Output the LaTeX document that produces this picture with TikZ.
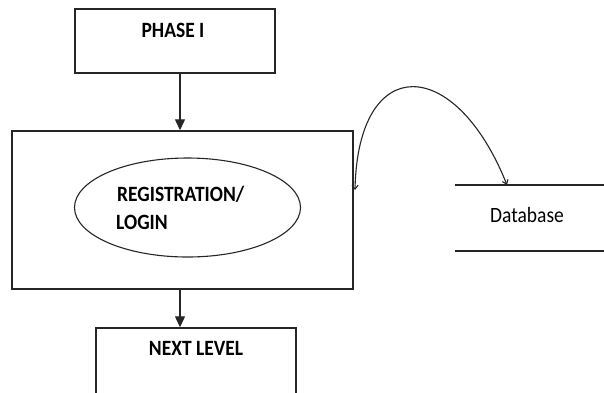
\documentclass[tikz,border=0pt]{standalone}
\usepackage{fontspec}
\setmainfont{Carlito}
\usetikzlibrary{arrows.meta,shapes.geometric}
% slightly taller lettering
\newcommand\talltext[1]{\scalebox{1}[1.12]{#1}}
\begin{document}
\begin{tikzpicture}[x=1pt,y=-1pt,
  box/.style={draw=black!85, line width=1.4pt, inner sep=0pt, rectangle},
  lbl/.style={inner sep=0pt, font=\fontsize{19.5}{23}\selectfont\bfseries, text=black},
  plain/.style={inner sep=0pt, font=\fontsize{19.5}{23}\selectfont, text=black},
  flow/.style={draw=black!85, line width=1.2pt, -{Triangle[width=10pt,length=11pt]}},
  link/.style={draw=black!85, line width=1.1pt,
    {Straight Barb[length=4pt,width=6pt]}-{Straight Barb[length=4pt,width=6pt]}},
  store/.style={draw=black!85, line width=1.4pt},
]
\clip (0,0) rectangle (604,392);

% process boxes
\node[box, minimum width=200, minimum height=64] (phase) at (175,41) {};
\node[box, minimum width=341, minimum height=158] (stage) at (182.5,210) {};
\node[box, minimum width=200, minimum height=90] (next) at (196,373) {};
\node[draw=black!85, line width=1.1pt, ellipse, inner sep=0pt,
      minimum width=226, minimum height=99] (reg) at (187.5,207.5) {};

% labels
\node[lbl] (phaset) at (173,30) {\talltext{PHASE I}};
\node[lbl, anchor=base west] (regA) at (117,201.5) {\talltext{REGISTRATION/}};
\node[lbl, anchor=base west] (regB) at (116,229) {\talltext{LOGIN}};
\node[lbl] (nextt) at (196,348.5) {\talltext{NEXT LEVEL}};

% data store
\coordinate (dbA) at (455,185);
\coordinate (dbB) at (610,185);
\coordinate (dbC) at (455,251);
\coordinate (dbD) at (610,251);
\draw[store] (dbA) -- (dbB);
\draw[store] (dbC) -- (dbD);
\node[plain, anchor=base] (dbt) at (527,222.7) {\talltext{Database}};

% flow arrows
\draw[flow] ([xshift=5pt]phase.south) -- ([xshift=5pt]phase.south |- stage.north);
\draw[flow] ([xshift=-2.5pt]stage.south) -- ([xshift=-2.5pt]stage.south |- next.north);

% two-way link between the stage and the data store
\coordinate (lnkA) at (355,190);
\coordinate (lnkB) at (507,185);
\draw[link] (lnkA) .. controls (358,52) and (455,55) .. (lnkB);
\end{tikzpicture}
\end{document}
